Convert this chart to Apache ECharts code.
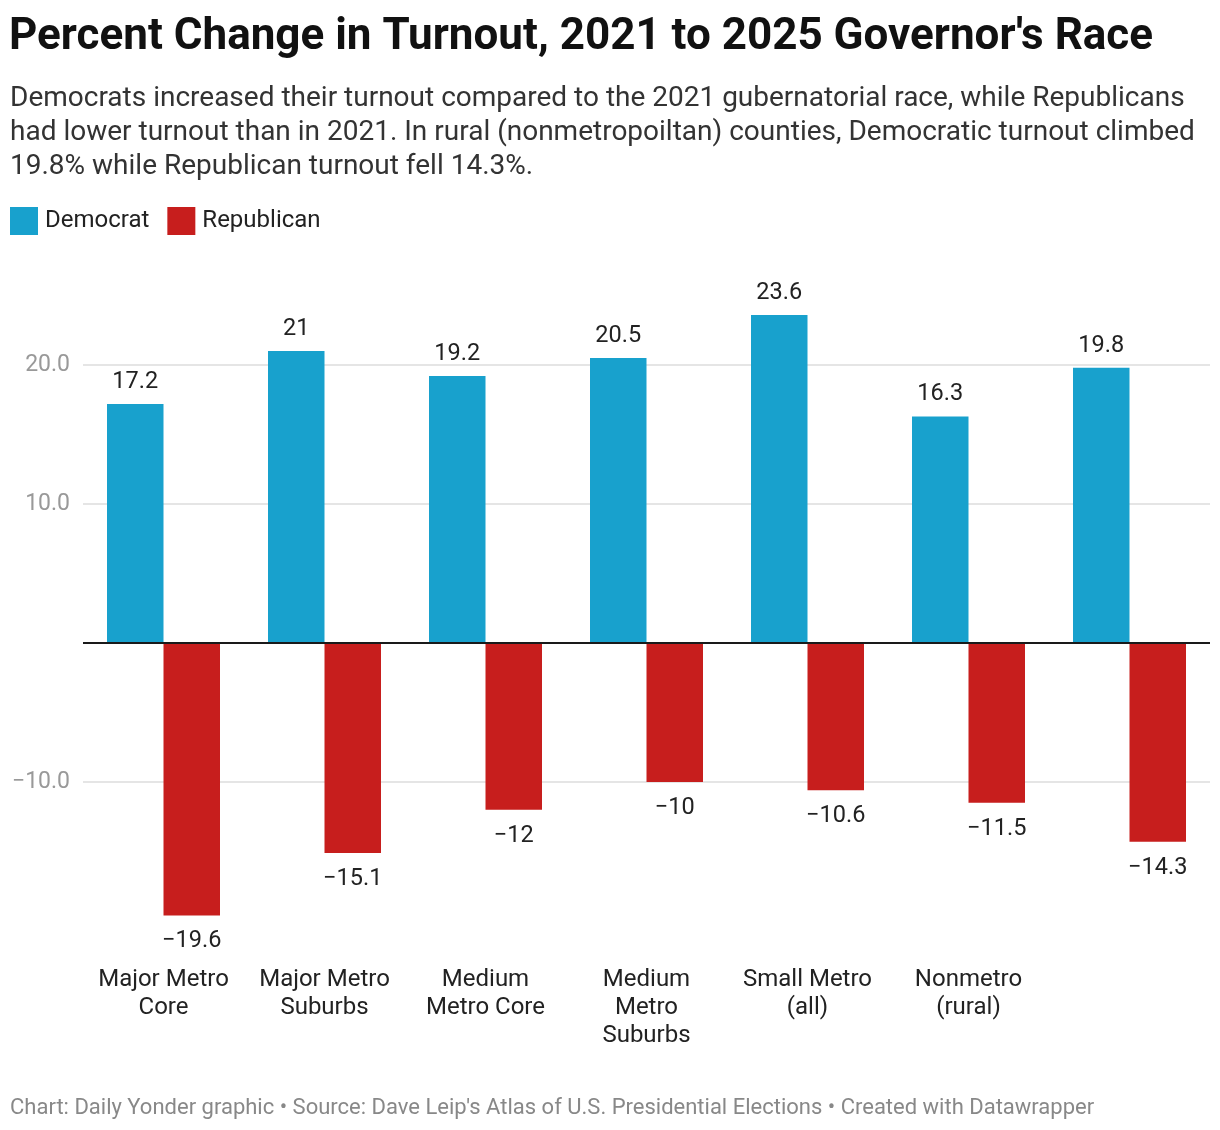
<!DOCTYPE html>
<html>
<head>
<meta charset="utf-8">
<script src="https://cdn.jsdelivr.net/npm/echarts@6/dist/echarts.min.js"></script>
<style>
html,body{margin:0;padding:0;background:#fff;}
#c{width:1220px;height:1130px;}
</style>
</head>
<body>
<div id="c"></div>
<script>
const categories = ["Major Metro\nCore", "Major Metro\nSuburbs", "Medium\nMetro Core", "Medium\nMetro\nSuburbs", "Small Metro\n(all)", "Nonmetro\n(rural)", ""];
const democrat = [17.2, 21, 19.2, 20.5, 23.6, 16.3, 19.8];
const republican = [-19.6, -15.1, -12, -10, -10.6, -11.5, -14.3];
const yTicks = [20, 10, -10];

const FONT = 'Roboto';
const chart = echarts.init(document.getElementById('c'), null, {renderer: 'canvas'});
const fmt = v => (v < 0 ? '\u2212' + Math.abs(v) : String(v));

chart.setOption({
  backgroundColor: '#fff',
  animation: false,
  textStyle: {fontFamily: FONT},
  title: [
    {
      text: "Percent Change in Turnout, 2021 to 2025 Governor's Race",
      left: 9, top: 16, padding: 0,
      textStyle: {fontFamily: FONT, fontWeight: 'bold', fontSize: 44, color: '#111'}
    },
    {
      text: "Democrats increased their turnout compared to the 2021 gubernatorial race, while Republicans\nhad lower turnout than in 2021. In rural (nonmetropoiltan) counties, Democratic turnout climbed\n19.8% while Republican turnout fell 14.3%.",
      left: 10, top: 82, padding: 0,
      textStyle: {fontFamily: FONT, fontWeight: 'normal', fontSize: 28, lineHeight: 34, color: '#333'}
    },
    {
      text: "Chart: Daily Yonder graphic \u2022 Source: Dave Leip's Atlas of U.S. Presidential Elections \u2022 Created with Datawrapper",
      left: 10, top: 1097, padding: 0,
      textStyle: {fontFamily: FONT, fontWeight: 'normal', fontSize: 22, color: '#888'}
    }
  ],
  legend: {
    left: 10, top: 207, padding: 0,
    itemWidth: 28, itemHeight: 28, itemGap: 18,
    icon: 'rect',
    textStyle: {fontFamily: FONT, fontSize: 24, color: '#222', padding: [2, 0, 0, 2]},
    data: ['Democrat', 'Republican']
  },
  grid: {left: 83, right: 10, top: 295.5, bottom: 209, containLabel: false},
  xAxis: {
    type: 'category',
    data: categories,
    axisLine: {show: false},
    axisTick: {show: false},
    axisLabel: {interval: 0, margin: 45, fontFamily: FONT, fontSize: 24, lineHeight: 28, color: '#222', align: 'center', verticalAlign: 'top'}
  },
  yAxis: {
    type: 'value',
    min: -20, max: 25, interval: 5,
    axisLine: {show: false},
    axisTick: {show: false},
    splitLine: {show: false},
    axisLabel: {
      margin: 13, fontFamily: FONT, fontSize: 23, color: '#999',
      formatter: v => yTicks.indexOf(v) >= 0 ? (v < 0 ? '\u2212' : '') + Math.abs(v).toFixed(1) : ''
    }
  },
  series: [
    {
      name: 'Democrat', type: 'bar', data: democrat,
      barWidth: 56.5, barGap: '0%',
      itemStyle: {color: '#18a1cd'},
      label: {show: true, position: 'top', distance: 10, fontFamily: FONT, fontSize: 23.5, color: '#222', formatter: p => fmt(p.value)},
      markLine: {
        silent: true, symbol: 'none', animation: false,
        label: {show: false},
        lineStyle: {color: '#e5e5e5', width: 2, type: 'solid'},
        data: yTicks.map(v => ({yAxis: v})),
        z: 0
      },
      z: 3
    },
    {
      name: 'Republican', type: 'bar', data: republican,
      barWidth: 56.5, barGap: '0%',
      itemStyle: {color: '#c71e1d'},
      label: {show: true, position: 'bottom', distance: 14, fontFamily: FONT, fontSize: 23.5, color: '#222', formatter: p => fmt(p.value)},
      markLine: {
        silent: true, symbol: 'none', animation: false,
        label: {show: false},
        lineStyle: {color: '#1a1a1a', width: 2, type: 'solid'},
        data: [{yAxis: 0}]
      },
      z: 3
    }
  ]
});
</script>
</body>
</html>
